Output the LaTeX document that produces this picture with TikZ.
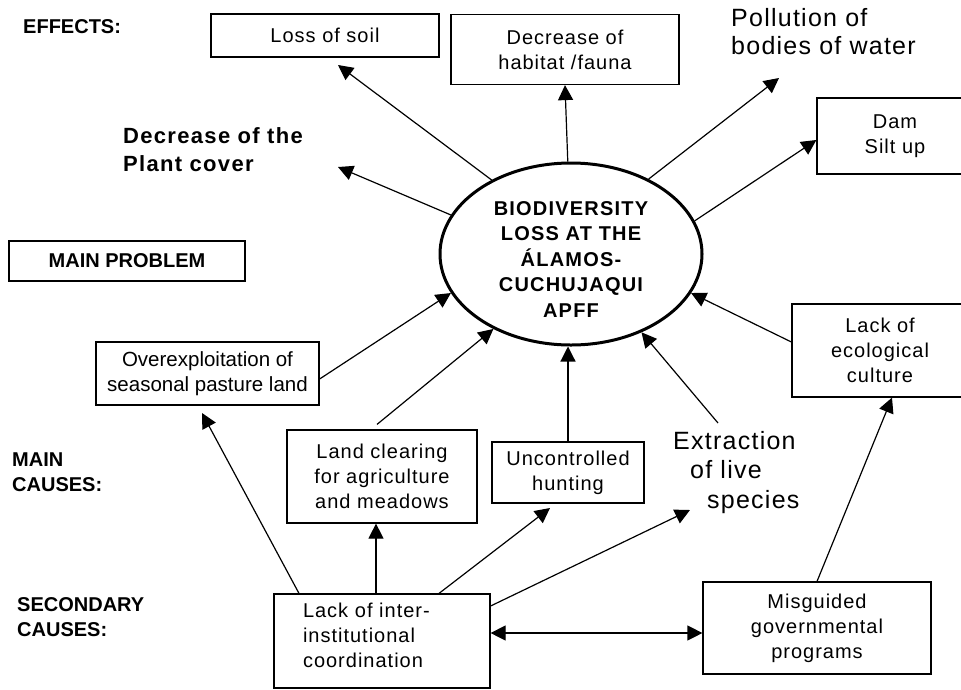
\documentclass[tikz,border=0pt]{standalone}
\usepackage{fontspec}
\setmainfont{Liberation Sans}
\newfontfamily\spfont[LetterSpace=5]{Liberation Sans}
\newfontfamily\bspfont[LetterSpace=6]{Liberation Sans}
\usetikzlibrary{arrows.meta,shapes.geometric}
\begin{document}
\begin{tikzpicture}[x=1pt,y=-1pt,
  box/.style={draw,line width=1.2pt,inner sep=0pt,align=center,font=\spfont\fontsize{20}{25}\selectfont},
  lbl/.style={inner sep=0pt,align=left,font=\bfseries\fontsize{20}{25}\selectfont},
  free/.style={inner sep=0pt,anchor=north west,align=left},
  arr/.style={line width=1.2pt,-{Triangle[length=15pt,width=15pt]}}]
\useasboundingbox (0,0) rectangle (961,689);
\clip (0,0) rectangle (961,689);
\fill[white] (0,0) rectangle (961,689);

% labels
\node[lbl,anchor=base west] (eff) at (23,33) {EFFECTS:};
\node[lbl,anchor=north west] (mc) at (12,452.7) {MAIN\\CAUSES:};
\node[lbl,anchor=north west] (sc) at (17,597.7) {SECONDARY\\CAUSES:};

% effects
\node[box,minimum width=228pt,minimum height=43pt] (soil) at (325,35.5) {Loss of soil};
\node[box,minimum width=228pt,minimum height=70pt] (hab) at (565,49.5) {Decrease of\\habitat /fauna};
\node[free,font=\spfont\fontsize{25}{28}\selectfont] (pol) at (731,8) {Pollution of\\bodies of water};
\node[box,minimum width=156pt,minimum height=76pt] (dam) at (895,136) {Dam\\Silt up};
\node[free,font=\bspfont\bfseries\fontsize{22}{28}\selectfont] (plant) at (123,127) {Decrease of the\\Plant cover};

% main problem
\node[box,minimum width=236pt,minimum height=40pt,font=\bfseries\fontsize{20}{25}\selectfont] (mp) at (127,261) {MAIN PROBLEM};
\node[draw,ellipse,line width=3pt,inner sep=0pt,minimum width=262pt,minimum height=182pt,align=center,
      font=\bspfont\bfseries\fontsize{20}{25.5}\selectfont] (ell) at (571,254)
      {\rule{0pt}{24pt}BIODIVERSITY\\LOSS AT THE\\ÁLAMOS-\\CUCHUJAQUI\\APFF};

% main causes
\node[box,minimum width=176pt,minimum height=93pt] (eco) at (880,350.5) {Lack of\\ecological\\culture};
\node[box,minimum width=223pt,minimum height=63pt,font=\fontsize{20.5}{25}\selectfont] (ovr) at (207.5,373.5) {Overexploitation of\\seasonal pasture land};
\node[box,minimum width=190pt,minimum height=93pt] (land) at (382,476.5) {Land clearing\\for agriculture\\and meadows};
\node[box,minimum width=152pt,minimum height=61pt] (hunt) at (568,472.5) {Uncontrolled\\hunting};
\node[free,font=\spfont\fontsize{25}{29.5}\selectfont] (ext) at (673,431) {Extraction\\\hspace*{17pt}of live\\\hspace*{34pt}species};

% secondary causes
\node[box,minimum width=216pt,minimum height=94pt,text width=158pt,inner xsep=29pt,align=left] (li) at (382,641)
      {Lack of inter-\\institutional\\coordination\rule[-11pt]{0pt}{0pt}};
\node[box,minimum width=228pt,minimum height=92pt] (mis) at (817,628) {Misguided\\governmental\\programs};

% free arrow ends
\coordinate (s1) at (338,65);
\coordinate (p1) at (338,167);
\coordinate (w1) at (779,78);
\coordinate (o1) at (202,413);
\coordinate (h1) at (550,508);
\coordinate (e1) at (690,510);

% connectors
\draw[arr] (ell.137) -- (s1);
\draw[arr] (ell.162) -- (p1);
\draw[arr] (ell.92) -- (hab.south);
\draw[arr] (ell.44) -- (w1);
\draw[arr] (ell.15) -- ([yshift=-4pt]dam.west);
\draw[arr] ([yshift=8.5pt]eco.west) -- (ell.-18);
\draw[arr] ([yshift=-5.5pt]ovr.east) -- (ell.198);
\draw[arr] ([xshift=-5pt,yshift=5pt]land.north) -- (ell.224);
\draw[arr] (hunt.north) -- (hunt.north |- ell.south);
\draw[arr] ([xshift=45pt,yshift=8pt]ext.north west) -- (ell.-48);
\draw[arr] ([xshift=-83pt]li.north) -- (o1);
\draw[arr] ([xshift=-6pt]li.north) -- ([xshift=-6pt]land.south);
\draw[arr] ([xshift=57pt]li.north) -- (h1);
\draw[arr] ([yshift=35pt]li.east) -- (e1);
\draw[line width=1.2pt,{Triangle[length=15pt,width=15pt]}-{Triangle[length=15pt,width=15pt]}]
  ([yshift=8pt]li.east) -- ([yshift=8pt]li.east -| mis.west);
\draw[arr] (mis.north) -- ([xshift=12pt]eco.south);
\end{tikzpicture}
\end{document}
